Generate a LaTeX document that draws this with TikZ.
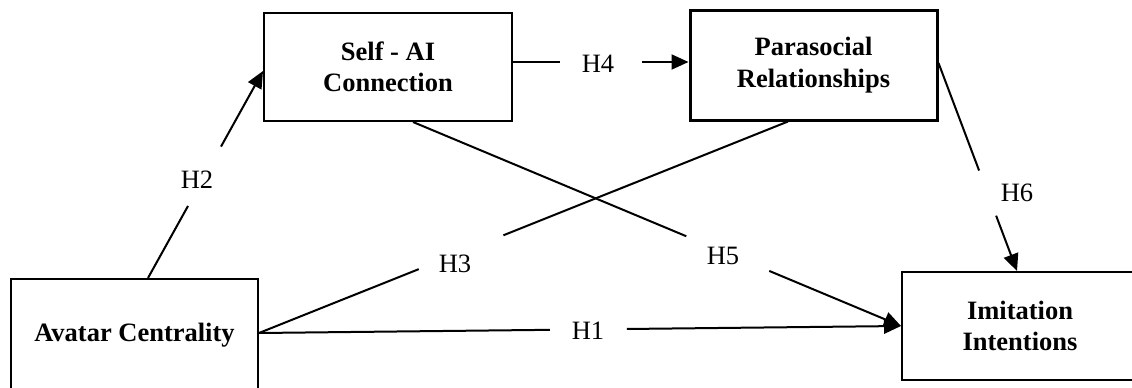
\documentclass[tikz,border=0pt]{standalone}
\usepackage{fontspec}
\setmainfont{Liberation Serif}
\usetikzlibrary{arrows.meta,calc}
\begin{document}
\begin{tikzpicture}[x=1pt,y=-1pt,
  box/.style={draw,line width=2pt,fill=white,inner sep=0pt,align=center,
    font=\bfseries\fontsize{26.5}{31.5}\selectfont},
  link/.style={line width=2pt},
  arr/.style={link,-{Triangle[length=17pt,width=15pt]}},
  hyp/.style={inner sep=0pt,font=\fontsize{26.5}{31}\selectfont}]
\useasboundingbox (0,0) rectangle (1132,388);
\clip (0,0) rectangle (1132,388);

% constructs
\node[box,minimum width=248pt,minimum height=108pt] (sa) at (388,67) {Self - AI\\Connection};
\node[box,line width=3pt,minimum width=247pt,minimum height=110pt] (pr) at (813.5,65) {Parasocial\\Relationships};
\node[box,minimum width=247pt,minimum height=112pt] (ac) at (134.5,335) {Avatar Centrality};
\node[box,minimum width=236pt,minimum height=108pt] (ii) at (1020,326) {Imitation\\Intentions};

% end points of the paths on the box borders
\coordinate (h2s) at ([xshift=13.5pt]ac.north);
\coordinate (h2e) at ([yshift=-4pt]sa.west);
\coordinate (h4s) at ([yshift=5pt]sa.east);
\coordinate (h4e) at ([yshift=3pt]pr.west);
\coordinate (h3s) at ([yshift=2pt]ac.east);
\coordinate (h3e) at ([xshift=-25.5pt]pr.south);
\coordinate (h5s) at ([xshift=25pt]sa.south);
\coordinate (h5e) at (ii.west);
\coordinate (h1s) at ([yshift=2pt]ac.east);
\coordinate (h1e) at (ii.west);
\coordinate (h6s) at ([yshift=2pt]pr.east);
\coordinate (h6e) at ([xshift=-3pt]ii.north);

% hypothesised paths, each broken where its label sits
\draw[link] (h2s) -- ($(h2s)!0.348!(h2e)$);
\draw[arr]  ($(h2s)!0.635!(h2e)$) -- (h2e);
\draw[link] (h4s) -- ($(h4s)!0.27!(h4e)$);
\draw[arr]  ($(h4s)!0.736!(h4e)$) -- (h4e);
\draw[link] (h3s) -- ($(h3s)!0.302!(h3e)$);
\draw[link] ($(h3s)!0.462!(h3e)$) -- (h3e);
\draw[link] (h5s) -- ($(h5s)!0.56!(h5e)$);
\draw[arr]  ($(h5s)!0.73!(h5e)$) -- (h5e);
\draw[link] (h1s) -- ($(h1s)!0.453!(h1e)$);
\draw[arr]  ($(h1s)!0.573!(h1e)$) -- (h1e);
\draw[link] (h6s) -- ($(h6s)!0.517!(h6e)$);
\draw[arr]  ($(h6s)!0.734!(h6e)$) -- (h6e);

% path labels
\node[hyp] (l1) at (588,331) {H1};
\node[hyp] (l2) at (197,180) {H2};
\node[hyp] (l3) at (455,264) {H3};
\node[hyp] (l4) at (598,64) {H4};
\node[hyp] (l5) at (723,256) {H5};
\node[hyp] (l6) at (1017,193) {H6};
\end{tikzpicture}
\end{document}
